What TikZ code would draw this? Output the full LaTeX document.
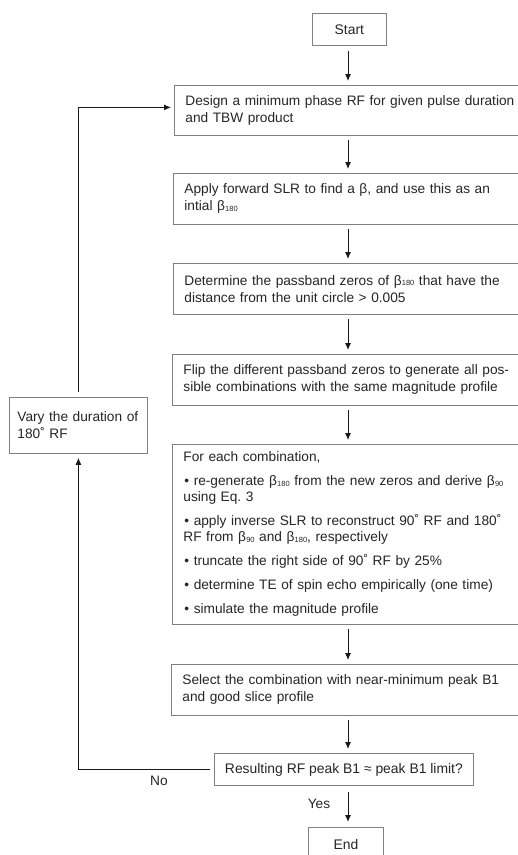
\documentclass[tikz,border=0pt]{standalone}
\usepackage{fontspec}
\setmainfont{Liberation Sans}
\usetikzlibrary{arrows.meta,calc}
\newcommand\bsub[1]{β\kern0.2pt\raisebox{-0.4pt}{\fontsize{7.5}{8}\selectfont #1}}
\begin{document}
\begin{tikzpicture}[x=1pt,y=-1pt,
  box/.style={draw=black!50, line width=0.8pt, fill=white, inner xsep=11pt, inner ysep=0pt,
    align=left, font=\fontsize{13.7}{17}\selectfont, text=black!85, anchor=north west, text width=340pt},
  cbox/.style={draw=black!50, line width=0.8pt, fill=white, inner sep=0pt,
    align=center, font=\fontsize{13.9}{17}\selectfont, text=black!85, anchor=north west},
  arr/.style={-{Latex[length=7pt,width=6pt]}, line width=1pt, draw=black!90},
  lbl/.style={font=\fontsize{13.7}{16}\selectfont, text=black!85, inner sep=0pt}]
\clip (0,0) rectangle (518,855);
\fill[white] (0,0) rectangle (518,855);
\coordinate (cx) at (348,0);
\node[cbox, minimum width=74pt, minimum height=32pt] (start) at (312,13) {Start};
\node[box, minimum height=50pt] (design) at (174,85) {Design a minimum phase RF for given pulse duration\\and TBW product};
\node[box, minimum height=51pt] (apply) at (173,173) {Apply forward SLR to find a β, and use this as an\\intial \bsub{180}};
\node[box, minimum height=51pt] (determine) at (173,263) {Determine the passband zeros of \bsub{180} that have the\\distance from the unit circle > 0.005};
\node[box, minimum height=51pt] (flip) at (172,354) {Flip the different passband zeros to generate all pos-\\sible combinations with the same magnitude profile};
\node[box, minimum height=180pt, font=\fontsize{13.7}{16}\selectfont] (foreach) at (172,444) {For each combination,\\[8pt]
\hspace{1pt}• re-generate \bsub{180} from the new zeros and derive \bsub{90}\\
using Eq.\ 3\\[8pt]
\hspace{1pt}• apply inverse SLR to reconstruct 90˚ RF and 180˚\\
RF from \bsub{90} and \bsub{180}, respectively\\[8pt]
\hspace{1pt}• truncate the right side of 90˚ RF by 25\%\\[8pt]
\hspace{1pt}• determine TE of spin echo empirically (one time)\\[8pt]
\hspace{1pt}• simulate the magnitude profile};
\node[box, minimum height=51pt] (select) at (171,664) {Select the combination with near-minimum peak B1\\and good slice profile};
\node[cbox, minimum width=259pt, minimum height=32pt] (res) at (214,753) {Resulting RF peak B1 ≈ peak B1 limit?};
\node[cbox, minimum width=75pt, minimum height=34pt] (end) at (308,827) {End};
\node[box, text width=122pt, inner xsep=8pt, minimum height=56pt] (vary) at (9,397) {Vary the duration of\\180˚ RF};
\node[lbl] (no) at (159,781) {No};
\node[lbl] (yes) at (319,804) {Yes};
% vertical arrows
\draw[arr] ([yshift=-5pt]start.south -| cx) -- ([yshift=4pt]design.north -| cx);
\draw[arr] ([yshift=-4pt]design.south -| cx) -- ([yshift=4pt]apply.north -| cx);
\draw[arr] ([yshift=-4pt]apply.south -| cx) -- ([yshift=4pt]determine.north -| cx);
\draw[arr] ([yshift=-4pt]determine.south -| cx) -- ([yshift=4pt]flip.north -| cx);
\draw[arr] ([yshift=-4pt]flip.south -| cx) -- ([yshift=4pt]foreach.north -| cx);
\draw[arr] ([yshift=-4pt]foreach.south -| cx) -- ([yshift=4pt]select.north -| cx);
\draw[arr] ([yshift=-4pt]select.south -| cx) -- ([yshift=4pt]res.north -| cx);
\draw[arr] ([yshift=-6pt]res.south -| cx) -- ([yshift=5pt]end.north -| cx);
% loop back
\draw[arr] ([xshift=-4pt]res.west) -| ([yshift=-4pt]vary.south);
\draw[arr] ([yshift=5pt]vary.north) |- ([xshift=-3pt,yshift=3pt]design.west);
\end{tikzpicture}
\end{document}
